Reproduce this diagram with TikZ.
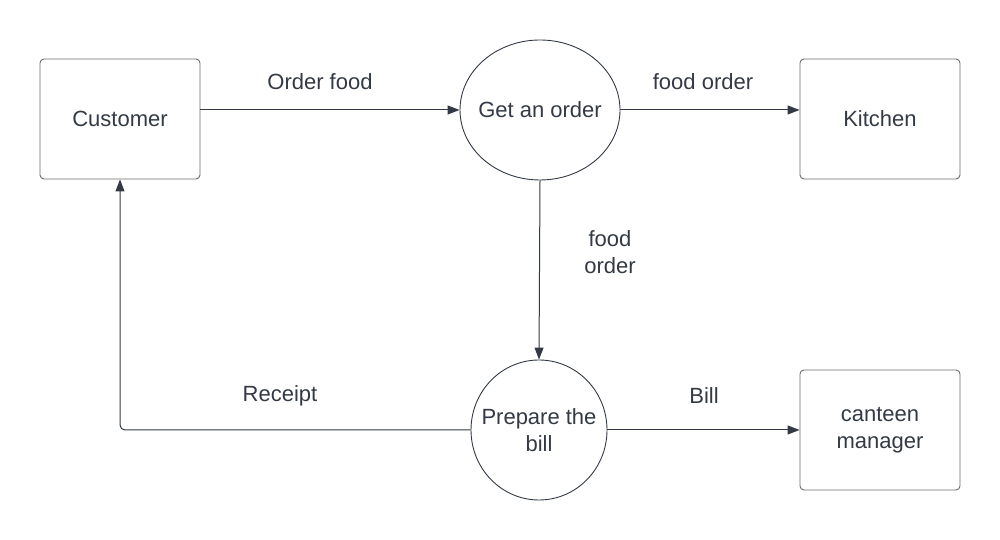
\documentclass[tikz,border=0pt]{standalone}
\usepackage{fontspec}
\setmainfont{Liberation Sans}
\usetikzlibrary{shapes.geometric,arrows.meta}
\definecolor{inkgray}{HTML}{333A45}
\definecolor{boxgray}{HTML}{6B6B6B}
\begin{document}
\begin{tikzpicture}[x=1pt, y=1pt,
    every node/.style={font=\fontsize{22}{27}\selectfont, text=inkgray},
    entity/.style={draw=boxgray, line width=0.9pt, rounded corners=4pt, minimum width=160pt, minimum height=120pt, align=center},
    process/.style={draw=inkgray, line width=0.9pt, ellipse, inner xsep=-12pt, inner ysep=0pt, align=center},
    flow/.style={draw=inkgray, line width=1pt, -{Triangle[length=12pt, width=9pt]}}]
    \useasboundingbox (0,0) rectangle (1000,540);
    % entities
    \node[entity] (customer) at (120,421) {Customer};
    \node[entity] (kitchen) at (880,421) {Kitchen};
    \node[entity] (manager) at (880,110) {canteen\\manager};
    % processes
    \node[process, minimum width=160pt, minimum height=140pt] (getorder) at (540,430) {Get an order};
    \node[process, minimum width=136pt, minimum height=140pt] (bill) at (539,110) {Prepare the\\bill};
    % flows
    \draw[flow] (getorder.west -| customer.east) -- (getorder.west);
    \draw[flow] (getorder.east) -- (getorder.east -| kitchen.west);
    \draw[flow] (getorder.south) -- (bill.north);
    \draw[flow, rounded corners=5pt] (bill.west) -| (customer.south);
    \draw[flow] (bill.east) -- (bill.east -| manager.west);
    % labels
    \node (lblorder) at (320,458) {Order food};
    \node (lblkitchen) at (703,458) {food order};
    \node[align=center] (lblfood) at (610,288) {food\\order};
    \node (lblreceipt) at (280,144) {Receipt};
    \node (lblbill) at (704,144) {Bill};
\end{tikzpicture}
\end{document}
